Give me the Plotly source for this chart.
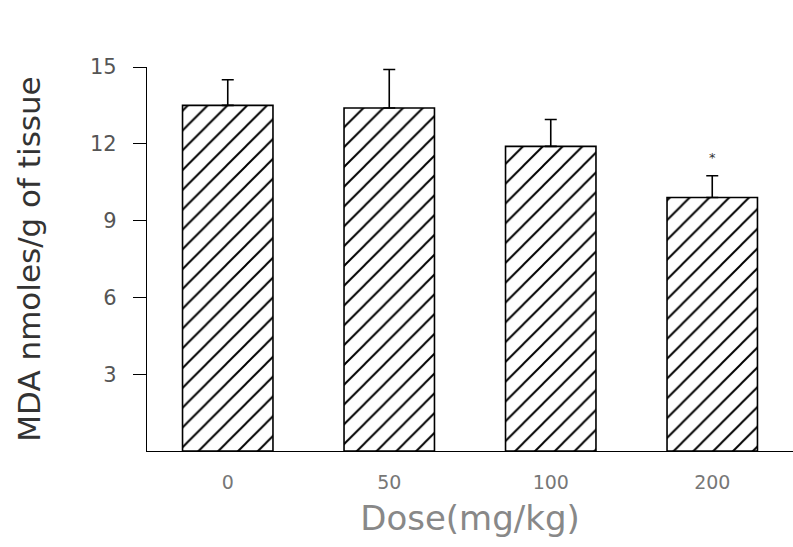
import plotly.graph_objects as go

doses = ["0", "50", "100", "200"]
mda = [13.5, 13.4, 11.9, 9.9]
sem = [1.0, 1.5, 1.05, 0.85]
y_ticks = [3, 6, 9, 12, 15]
marks = ["", "", "", "*"]

pos = list(range(len(doses)))

fig = go.Figure()
fig.add_trace(go.Bar(
    x=pos, y=mda, width=0.56,
    marker=dict(color="white", line=dict(color="black", width=1.6),
                pattern=dict(shape="/", fgcolor="black", bgcolor="white",
                             fgopacity=1, size=14, solidity=0.14)),
    error_y=dict(type="data", array=sem, arrayminus=[0]*len(sem), symmetric=False,
                 color="black", thickness=1.6, width=6),
    showlegend=False,
))

for p, v, e, m in zip(pos, mda, sem, marks):
    if m:
        fig.add_annotation(x=p, y=v + e + 0.7, text=m, showarrow=False,
                           font=dict(size=13, color="#333"))

fig.update_layout(
    width=793, height=547,
    margin=dict(l=147, r=0, t=67, b=96),
    plot_bgcolor="white", paper_bgcolor="white",
    font=dict(family="DejaVu Sans", color="#444"),
)
fig.update_xaxes(
    range=[-0.5, len(doses) - 0.5],
    tickvals=pos, ticktext=doses,
    showline=True, linecolor="black", linewidth=1.2,
    ticks="", showgrid=False, zeroline=False,
    ticklabelstandoff=14,
    tickfont=dict(size=19, color="#777"),
    title=dict(text="Dose(mg/kg)", font=dict(size=34, color="#888"), standoff=14),
)
fig.update_yaxes(
    range=[0, 15], showline=True, linecolor="black", linewidth=1.2,
    ticks="outside", ticklen=13, tickcolor="black", tickwidth=1.2,
    tickvals=y_ticks, showgrid=False, zeroline=False,
    ticklabelstandoff=12,
    tickfont=dict(size=21, color="#555"),
    title=dict(text="MDA nmoles/g of tissue", font=dict(size=31, color="#333"), standoff=40),
)

fig.write_html("out.html")
